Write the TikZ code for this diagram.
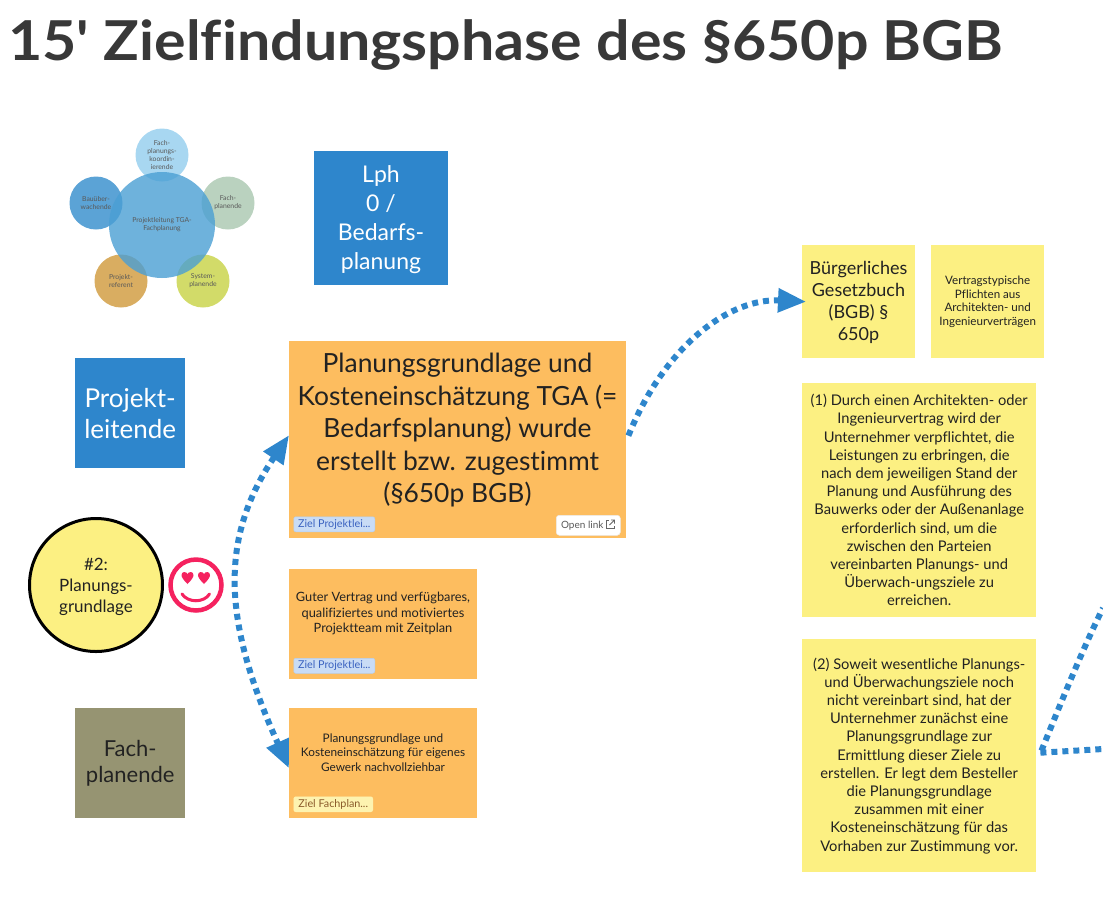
\documentclass[tikz,border=0pt]{standalone}
\usepackage{fontspec}
\setmainfont[Ligatures={TeX,NoCommon}]{Lato}
\newfontfamily\titlefont[FakeStretch=1.075,Ligatures=NoCommon]{Lato}
\usetikzlibrary{arrows.meta}
\definecolor{inkc}{HTML}{222222}
\definecolor{bluebox}{HTML}{2E86CC}
\definecolor{orangebox}{HTML}{FDBD5F}
\definecolor{yellowbox}{HTML}{FCF082}
\definecolor{olivebox}{HTML}{969472}
\definecolor{pinkc}{HTML}{F5225F}
\definecolor{arrowc}{HTML}{2E86CC}
\definecolor{ptop}{HTML}{96CFEF}
\definecolor{pright}{HTML}{ACC9B2}
\definecolor{pleft}{HTML}{378FCD}
\definecolor{pbl}{HTML}{D19C3F}
\definecolor{pbr}{HTML}{C9D449}
\definecolor{pmid}{HTML}{4A9FD4}
\definecolor{tagbluefill}{HTML}{C9DCF5}
\definecolor{tagblueline}{HTML}{B5CFF0}
\definecolor{tagbluetext}{HTML}{3A62C0}
\definecolor{tagyelfill}{HTML}{FDF3B0}
\definecolor{tagyeltext}{HTML}{8A5A2A}
\tikzset{
  x=1pt,y=-1pt,
  sq/.style={rectangle,inner sep=0pt,align=center,text=inkc,anchor=north west},
  txt/.style={inner sep=0pt,align=center,text=inkc},
  fs/.style 2 args={font=\fontsize{#1}{#2}\selectfont},
  tagblue/.style={rectangle,rounded corners=2pt,fill=tagbluefill,draw=tagblueline,line width=.5pt,text=tagbluetext,inner sep=0pt,minimum height=15pt,minimum width=81pt,anchor=north west,fs={10.8}{12}},
  tagyellow/.style={tagblue,fill=tagyelfill,draw=tagyelfill,text=tagyeltext,minimum width=79pt},
  petal/.style={circle,inner sep=0pt,minimum size=53pt,fill opacity=.82,text opacity=1,text=black!65,align=center,fs={6.8}{8}},
  flow/.style={draw=arrowc,line width=6pt,dash pattern=on 6pt off 5pt},
  bigtip/.style={-{Triangle[length=28pt,width=23pt,fill=arrowc]}},
  bothtip/.style={{Triangle[length=28pt,width=23pt,fill=arrowc]}-{Triangle[length=28pt,width=23pt,fill=arrowc]}},
}
\begin{document}
\begin{tikzpicture}
\useasboundingbox (0,0) rectangle (1103,922);
\fill[white] (0,0) rectangle (1103,922);
% title
\node[anchor=west,inner sep=0pt,text=black!78,font=\titlefont\fontsize{55}{60}\selectfont] (title) at (8,45) {\bfseries 15' Zielfindungsphase des §650p BGB};
% cluster
\node[petal,fill=ptop] (p1) at (162,155) {Fach-\\planungs-\\koordin-\\ierende};
\node[petal,fill=pright] (p2) at (228,203) {Fach-\\planende};
\node[petal,fill=pleft] (p3) at (96,203) {Bauüber-\\wachende};
\node[petal,fill=pbl] (p4) at (121,281) {Projekt-\\referent};
\node[petal,fill=pbr] (p5) at (203,281) {System-\\planende};
\node[petal,minimum size=106pt,fill=pmid,fill opacity=.8] (pc) at (162,225) {Projektleitung TGA-\\Fachplanung};
% left blue / olive
\node[sq,fill=bluebox,minimum width=134pt,minimum height=134pt] (lph) at (314,151) {};
\node[txt,text=white,fs={23}{29}] (lpht) at (381,220) {Lph\\0 /\\Bedarfs-\\planung};
\node[sq,fill=bluebox,text=white,minimum width=110pt,minimum height=110pt,fs={26}{31}] (pl) at (75,358) {Projekt-\\leitende};
\node[sq,fill=olivebox,minimum width=110pt,minimum height=110pt,fs={22}{26}] (fp) at (75,708) {Fach-\\planende};
% circle
\node[circle,draw=black,line width=3pt,fill=yellowbox,minimum size=133pt,inner sep=0pt] (goal) at (96,585) {};
\node[txt,fs={17}{21}] (goalt) at (96,586.5) {\#2:\\Planungs-\\grundlage};
% smiley
\node[circle,draw=pinkc,line width=4.5pt,minimum size=51pt,inner sep=0pt] (smile) at (196,585) {};
\fill[pinkc] (187.5,584) .. controls (183,579.5) and (181.5,577) .. (181.5,575) .. controls (181.5,571.5) and (186,571) .. (187.5,574) .. controls (189,571) and (193.5,571.5) .. (193.5,575) .. controls (193.5,577) and (192,579.5) .. (187.5,584) -- cycle;
\fill[pinkc] (204,584) .. controls (199.5,579.5) and (198,577) .. (198,575) .. controls (198,571.5) and (202.5,571) .. (204,574) .. controls (205.5,571) and (210,571.5) .. (210,575) .. controls (210,577) and (208.5,579.5) .. (204,584) -- cycle;
\draw[pinkc,line width=3pt,line cap=round] (182,594) .. controls (188,603) and (204,603) .. (209.5,594);
% orange boxes
\node[sq,fill=orangebox,minimum width=337pt,minimum height=197pt] (b1) at (289,341) {};
\node[txt,fs={26.4}{32.5}] (b1t) at (457.5,430.5) {Planungsgrundlage und\\Kosteneinschätzung TGA (=\\Bedarfsplanung) wurde\\erstellt bzw. zugestimmt\\(§650p BGB)};
\node[tagblue] (t1) at (293.5,516.5) {Ziel Projektlei...};
\node[rectangle,rounded corners=3pt,fill=white,draw=black!8,line width=.5pt,minimum width=64pt,minimum height=20pt,anchor=north west,inner sep=0pt,text=black!65,fs={10}{12}] (open) at (556,515) {\hspace{-12pt}Open link};
\draw[black!60,line width=.8pt] (609,520.5) -- (606.5,520.5) -- (606.5,528) -- (614,528) -- (614,525.5);
\draw[black!60,line width=.8pt] (609.5,525) -- (614.5,520) (611,520) -- (614.5,520) -- (614.5,523.5);
\node[sq,fill=orangebox,minimum width=188pt,minimum height=110pt] (b2) at (289,569) {};
\node[txt,fs={12.8}{15.5}] (b2t) at (383,613.5) {Guter Vertrag und verfügbares,\\qualifiziertes und motiviertes\\Projektteam mit Zeitplan};
\node[tagblue] (t2) at (293.5,658) {Ziel Projektlei...};
\node[sq,fill=orangebox,minimum width=188pt,minimum height=110pt] (b3) at (289,708) {};
\node[txt,fs={11.8}{14.3}] (b3t) at (383,752.5) {Planungsgrundlage und\\Kosteneinschätzung für eigenes\\Gewerk nachvollziehbar};
\node[tagyellow] (t3) at (293.5,796.5) {Ziel Fachplan...};
% yellow
\node[sq,fill=yellowbox,minimum width=113pt,minimum height=113pt] (bgb) at (802,245) {};
\node[txt,fs={18}{22}] (bgbt) at (858.5,302.5) {Bürgerliches\\Gesetzbuch\\(BGB) §\\650p};
\node[sq,fill=yellowbox,minimum width=113pt,minimum height=113pt,fs={11.6}{13.7}] (vt) at (931,245) {Vertragstypische\\Pflichten aus\\Architekten- und\\Ingenieurverträgen};
\node[sq,fill=yellowbox,minimum width=234pt,minimum height=234pt,fs={14.7}{18.2}] (s1) at (802,383) {(1) Durch einen Architekten- oder\\Ingenieurvertrag wird der\\Unternehmer verpflichtet, die\\Leistungen zu erbringen, die\\nach dem jeweiligen Stand der\\Planung und Ausführung des\\Bauwerks oder der Außenanlage\\erforderlich sind, um die\\zwischen den Parteien\\vereinbarten Planungs- und\\Überwach-ungsziele zu\\erreichen.};
\node[sq,fill=yellowbox,minimum width=234pt,minimum height=233pt,fs={14.7}{18.2}] (s2) at (802,639) {(2) Soweit wesentliche Planungs-\\und Überwachungsziele noch\\nicht vereinbart sind, hat der\\Unternehmer zunächst eine\\Planungsgrundlage zur\\Ermittlung dieser Ziele zu\\erstellen. Er legt dem Besteller\\die Planungsgrundlage\\zusammen mit einer\\Kosteneinschätzung für das\\Vorhaben zur Zustimmung vor.};
% connectors
\coordinate (offa) at (1103,608);
\coordinate (offb) at (1103,749);
\draw[flow,bothtip] ([yshift=4.5pt]b1.west) .. controls (216,543) and (226,628) .. ([yshift=-5pt]b3.west);
\draw[flow,bigtip] ([xshift=2pt,yshift=4pt]b1.east) .. controls (665,345) and (730,298) .. ([xshift=4pt]bgb.west);
\draw[flow] ([xshift=5pt,yshift=5pt]s2.east) .. controls (1056,715) and (1082,650) .. (offa);
\draw[flow] ([xshift=4pt,yshift=3pt]s2.east) -- (offb);
\end{tikzpicture}
\end{document}
